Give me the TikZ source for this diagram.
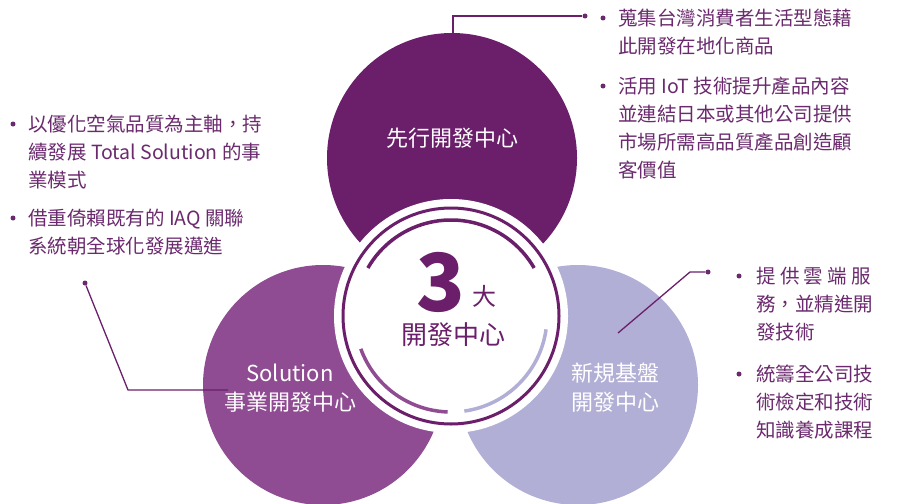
\documentclass[tikz,border=0pt]{standalone}
\usepackage{fontspec}
\newfontfamily\cjk{Noto Sans CJK TC}
\definecolor{dk}{HTML}{6B1F6B}
\definecolor{md}{HTML}{8F4C92}
\definecolor{lt}{HTML}{B1AFD5}
\definecolor{tx}{HTML}{6B2A6E}
\begin{document}
\begin{tikzpicture}[x=1pt,y=-1pt,
  lbl/.style={text=white,font=\cjk\fontsize{22}{29}\selectfont,align=center},
  bl/.style={anchor=west,text=tx,font=\cjk\fontsize{19.5}{28}\selectfont,align=left,inner sep=0},
  dot/.style={circle,fill=tx,inner sep=0,minimum size=5pt},
  ln/.style={draw=dk,line width=1.3pt}]
\useasboundingbox (0,0) rectangle (909,503);
\fill[dk] (452,158) circle (125);
\fill[md] (323,385) circle (120);
\fill[lt] (578,385) circle (120);
\fill[white] (451,316) circle (117);
\draw[dk,line width=3pt] (451,316) circle (108);
\draw[dk,line width=3.5pt] (451,316) ++(210:96) arc (210:330:96);
\draw[md,line width=3.5pt] (451,316) ++(160:96) arc (160:92:96);
\draw[lt,line width=3.5pt] (451,316) ++(82:96) arc (82:8:96);
\node[lbl] (top) at (452,138) {先行開發中心};
\node[lbl] (left) at (290,388) {Solution\\事業開發中心};
\node[lbl] (right) at (615,388) {新規基盤\\開發中心};
\node[text=dk,font=\cjk\bfseries\fontsize{80}{80}\selectfont] (three) at (441,282) {3};
\node[text=dk,font=\cjk\fontsize{24}{28}\selectfont] (da) at (484,296) {大};
\node[text=dk,font=\cjk\fontsize{26}{30}\selectfont] (kf) at (453,335) {開發中心};
% top right
\node[bl] (t1) at (618,32) {蒐集台灣消費者生活型態藉\\此開發在地化商品};
\node[bl] (t2) at (618,128) {活用 IoT 技術提升產品內容\\並連結日本或其他公司提供\\市場所需高品質產品創造顧\\客價值};
\node[dot] at (603,18) {}; \node[dot] at (603,86) {};
% left
\node[bl] (l1) at (28,152) {以優化空氣品質為主軸，持\\續發展 Total Solution 的事\\業模式};
\node[bl] (l2) at (28,232) {借重倚賴既有的 IAQ 關聯\\系統朝全球化發展邁進};
\node[dot] at (13,124) {}; \node[dot] at (13,218) {};
% right
\node[bl] (r1) at (756,304) {提 供 雲 端 服\\務，並精進開\\發技術};
\node[bl] (r2) at (756,402) {統籌全公司技\\術檢定和技術\\知識養成課程};
\node[dot] at (739,276) {}; \node[dot] at (739,374) {};
% connectors
\node[dot] (c1) at (585,16) {};
\coordinate (c1b) at (453,40);
\draw[ln] (c1b) |- (c1);
\node[dot] (c2) at (85,283) {};
\coordinate (c2e) at (228,390);
\draw[ln] (c2) -- (128,390) -- (c2e);
\node[dot] (c3) at (708,272) {};
\coordinate (c3e) at (618,333);
\draw[ln] (c3) -- (690,272) -- (c3e);
\end{tikzpicture}
\end{document}
